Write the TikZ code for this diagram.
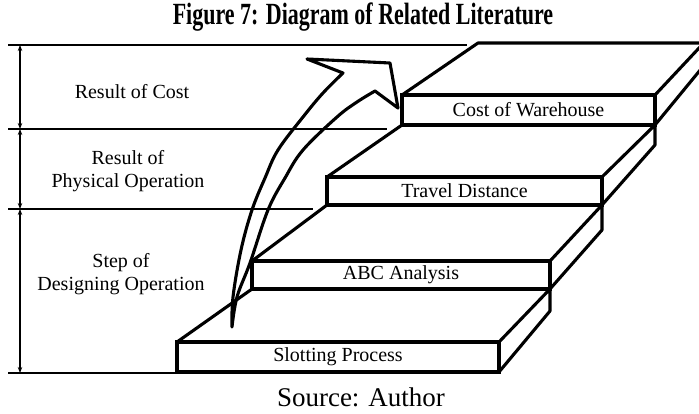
\documentclass[tikz,border=0pt]{standalone}
\usepackage{fontspec}
\setmainfont{Liberation Serif}
\usetikzlibrary{arrows.meta, positioning}

\tikzset{
  stepbox/.style={draw, line width=3.1pt, inner sep=0pt, outer sep=0pt,
    font=\fontsize{20}{22}\selectfont},
  stepedge/.style={line width=3.1pt, line join=round},
  levelline/.style={line width=1.8pt},
  dimarrow/.style={{Stealth[length=6pt,width=4.5pt]}-{Stealth[length=6pt,width=4.5pt]},
    line width=1.6pt},
  sidelabel/.style={align=center, font=\fontsize{20}{23}\selectfont},
}

\begin{document}
\begin{tikzpicture}[x=1pt, y=-1pt]
\useasboundingbox (0,0) rectangle (699,414);

% Title
\node[font=\fontsize{22}{24}\selectfont\bfseries, anchor=base] (title) at (363,25)
  {\scalebox{1}[1.4]{Figure 7: Diagram of Related Literature}};

\begin{scope}
\clip (0,0) rectangle (699,414);

% Level lines
\draw[levelline] (8,45) -- (467,45);
\draw[levelline] (8,129) -- (387,129);
\draw[levelline] (8,209) -- (313,209);
\draw[levelline] (8,373) -- (177,373);

% Dimension arrows on the left
\coordinate (lvA) at (20,45);
\coordinate (lvB) at (20,129);
\coordinate (lvC) at (20,209);
\coordinate (lvD) at (20,373);
\draw[dimarrow] (lvA) -- (lvB);
\draw[dimarrow] (lvB) -- (lvC);
\draw[dimarrow] (lvC) -- (lvD);

% Level labels
\node[sidelabel] (costlbl) at (132,92) {Result of Cost};
\node[sidelabel] (physlbl) at (128,171) {Result of\\Physical Operation};
\node[sidelabel] (designlbl) at (121,274) {Step of\\Designing Operation};

% === Steps (front faces) ===
\node[stepbox, minimum width=322pt, minimum height=30pt] (slot) at (338,357) {Slotting Process};
\node[stepbox, minimum width=298pt, minimum height=28pt] (abc) at (401,275) {ABC Analysis};
\node[stepbox, minimum width=275pt, minimum height=28pt] (travel) at (464.5,191) {Travel Distance};
\node[stepbox, minimum width=253pt, minimum height=30pt] (cost) at (528.5,110) {Cost of Warehouse};

% Treads and side faces
\draw[stepedge] (slot.north west) -- (abc.south west);
\draw[stepedge] (slot.north east) -- (abc.south east) -- ++(0,22) -- (slot.south east);
\draw[stepedge] (abc.north west) -- (travel.south west);
\draw[stepedge] (abc.north east) -- (travel.south east) -- ++(0,25) -- (abc.south east);
\draw[stepedge] (travel.north west) -- (cost.south west);
\draw[stepedge] (travel.north east) -- (cost.south east) -- ++(0,20) -- (travel.south east);

% Top step runs off to the right
\draw[stepedge] (cost.north west) -- ++(76,-52) -- (720,43);
\draw[stepedge] (cost.north east) -- ++(60,-64);
\draw[stepedge] (cost.south east) -- ++(60,-73);

% Curved hollow arrow up the stairs
\draw[stepedge]
  plot[smooth, tension=0.6] coordinates {
    (232,327) (233,297) (241,250) (252,210) (265,178) (278,150) (303,117) (323,93) (343,73)
  } -- (307,59) -- (390,63) -- (398,108) --
  plot[smooth, tension=0.6] coordinates {
    (375,91) (357,102) (337,117) (303,150) (285,178) (268,210) (250,263) (237,297) (232,327)
  } -- cycle;
\end{scope}

% Source line
\node[font=\fontsize{27}{29}\selectfont, anchor=base] (source) at (361,406) {Source: Author};

\end{tikzpicture}
\end{document}
